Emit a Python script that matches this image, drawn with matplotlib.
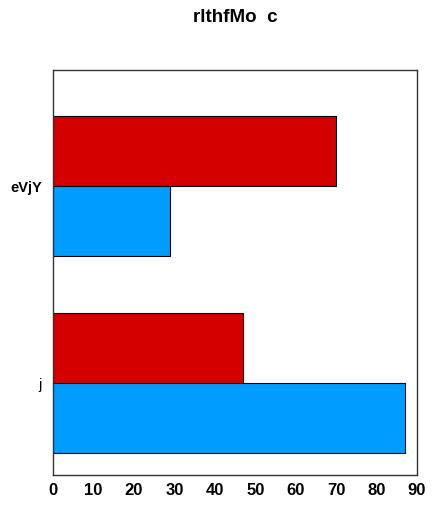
import numpy as np
import matplotlib
matplotlib.use('Agg')
import matplotlib.pyplot as plt

categories = ['j', 'eVjY']
red_vals = [47, 70]
blue_vals = [87, 29]

plt.rcParams['font.family'] = ['Liberation Sans', 'DejaVu Sans']

fig = plt.figure(figsize=(4.38, 5.11), dpi=100)
ax = fig.add_axes([53 / 438, 1 - 475 / 511, 364 / 438, 405 / 511])

y = np.arange(len(categories))
h = 0.355
ax.barh(y + h / 2, red_vals, height=h, color='#d40000', edgecolor='black', linewidth=0.8)
ax.barh(y - h / 2, blue_vals, height=h, color='#009cff', edgecolor='black', linewidth=0.8)

ax.set_xlim(0, 90)
ax.set_ylim(-0.467, 1.589)
ax.set_xticks(range(0, 91, 10))
ax.set_yticks(y)
ax.set_yticklabels(categories)
for lab, w in zip(ax.get_yticklabels(), ['normal', 'bold']):
    lab.set_fontweight(w)
    lab.set_fontsize(10.5)
for lab in ax.get_xticklabels():
    lab.set_fontweight('bold')
    lab.set_fontsize(12)
ax.tick_params(axis='y', length=0, pad=8)
ax.tick_params(axis='x', length=0, pad=6)
for s in ax.spines.values():
    s.set_color('#333333')
    s.set_linewidth(1)

# title centred over the axes
fig.text((53 + 417) / 2 / 438, 1 - 18 / 511, 'rlthfMo  c', fontsize=13.5,
         fontweight='bold', ha='center', va='center')

fig.savefig('out.png', dpi=100)
